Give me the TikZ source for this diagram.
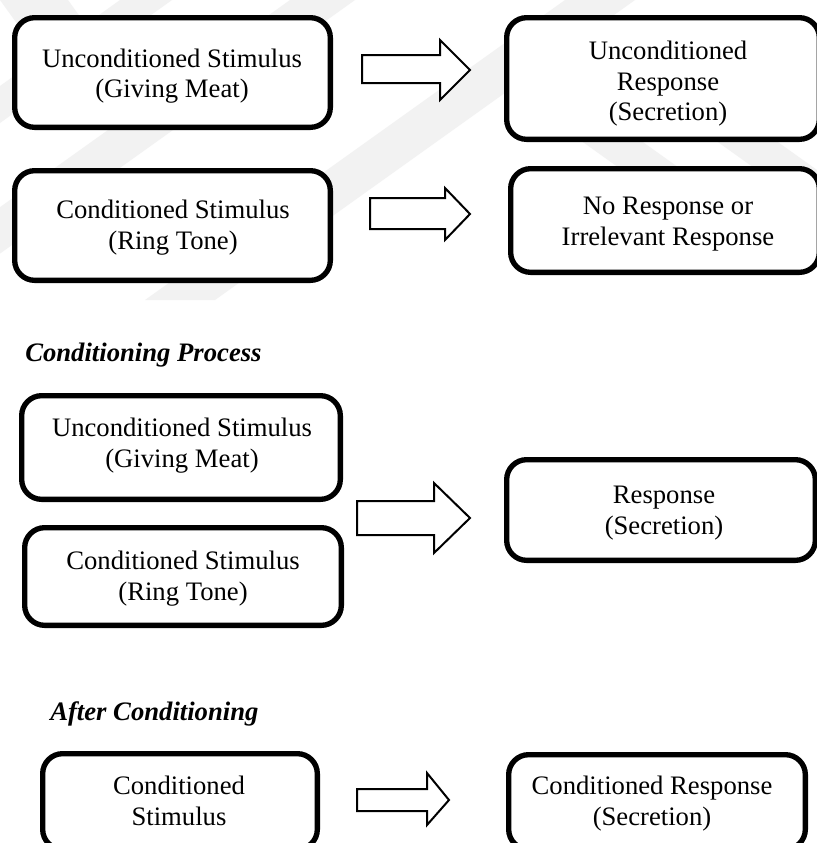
\documentclass[tikz,border=0pt]{standalone}
\usepackage{fontspec}
\setmainfont{Liberation Serif}
\begin{document}
\begin{tikzpicture}[x=0.75pt,y=-0.75pt,
  stagebox/.style={draw=black, fill=white, line width=4pt, rounded corners=15pt,
                   inner sep=0pt, outer sep=0pt},
  boxtext/.style={align=center, inner sep=0pt, font=\fontsize{20}{23}\selectfont},
  heading/.style={anchor=base west, inner sep=0pt, font=\fontsize{20}{23}\selectfont\bfseries\itshape},
  blockarrow/.style={draw=black, fill=white, line width=1.5pt, line join=miter},
  mark band/.style={fill=black!5, draw=none}]

\useasboundingbox (0,0) rectangle (817,843);
\fill[white] (0,0) rectangle (817,843);

% faint diagonal bands behind the upper rows
\fill[mark band] (290,0) -- (355,0) -- (-93,320) -- (-158,320) -- cycle;
\fill[mark band] (565,0) -- (635,0) -- (215,300) -- (145,300) -- cycle;
\fill[mark band] (120,0) -- (172,0) -- (0,123) -- (0,86) -- cycle;
\fill[mark band] (0,0) -- (68,0) -- (140,100) -- (72,100) -- cycle;
\fill[mark band] (510,90) -- (570,90) -- (689,175) -- (629,175) -- cycle;
\fill[mark band] (645,90) -- (705,90) -- (824,175) -- (764,175) -- cycle;

% ---- before conditioning ----
\node[stagebox, minimum width=236.75pt, minimum height=82.25pt] (ucsA) at (172.5,72.5) {};
\node[boxtext] (ucsAt) at (172,76) {Unconditioned Stimulus\\(Giving Meat)};

\node[stagebox, minimum width=234.5pt, minimum height=91.25pt] (urA) at (663,78.5) {};
\node[boxtext] (urAt) at (668,83.8) {Unconditioned\\Response\\(Secretion)};

\node[stagebox, minimum width=236.75pt, minimum height=82.25pt] (csA) at (172.5,225.5) {};
\node[boxtext] (csAt) at (173,227.8) {Conditioned Stimulus\\(Ring Tone)};

\node[stagebox, minimum width=231.5pt, minimum height=77.75pt] (nrA) at (665,220.5) {};
\node[boxtext] (nrAt) at (668,224.3) {No Response or\\Irrelevant Response};

\draw[blockarrow] (362,55) -- (440,55) -- (440,40) -- (470,70) -- (440,100) -- (440,83) -- (362,83) -- cycle;
\draw[blockarrow] (370,198) -- (445,198) -- (445,188) -- (470,214) -- (445,240) -- (445,229) -- (370,229) -- cycle;

% ---- conditioning process ----
\node[heading] (hdProc) at (25,361) {Conditioning Process};

\node[stagebox, minimum width=239pt, minimum height=77.75pt] (ucsB) at (181,447.5) {};
\node[boxtext] (ucsBt) at (182,445.8) {Unconditioned Stimulus\\(Giving Meat)};

\node[stagebox, minimum width=237.5pt, minimum height=73.25pt] (csB) at (183,576.5) {};
\node[boxtext] (csBt) at (183,578.8) {Conditioned Stimulus\\(Ring Tone)};

\node[stagebox, minimum width=231.5pt, minimum height=75.5pt] (respB) at (661,510) {};
\node[boxtext] (respBt) at (664,512.8) {Response\\(Secretion)};

\draw[blockarrow] (357,501) -- (434,501) -- (434,483) -- (470,518) -- (434,553) -- (434,535) -- (357,535) -- cycle;

% ---- after conditioning ----
\node[heading] (hdAfter) at (50,720) {After Conditioning};

\node[stagebox, minimum width=206pt, minimum height=71.75pt] (csC) at (180,801.5) {};
\node[boxtext] (csCt) at (179,800.9) {Conditioned\\Stimulus};

\node[stagebox, minimum width=222.5pt, minimum height=71pt] (crC) at (657,802) {};
\node[boxtext] (crCt) at (652,803.8) {Conditioned Response\\(Secretion)};

\draw[blockarrow] (357,789) -- (427,789) -- (427,773) -- (449,800) -- (427,825) -- (427,811) -- (357,811) -- cycle;

\end{tikzpicture}
\end{document}
